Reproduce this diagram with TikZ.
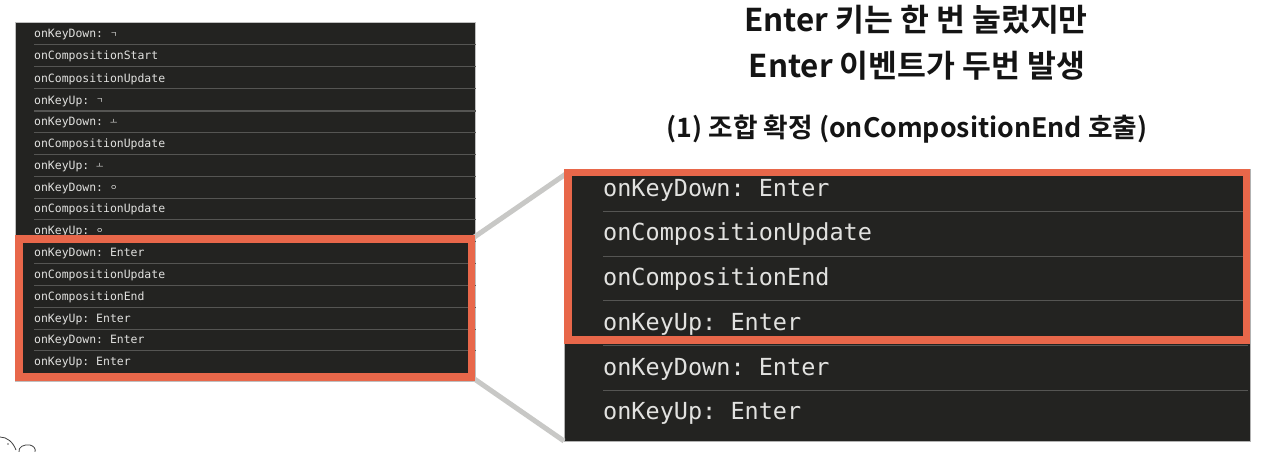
\documentclass[tikz,border=0pt]{standalone}
\usepackage{fontspec}
\setmainfont{Noto Sans CJK KR}[BoldFont={* Bold}]
\newfontfamily\codefont{DejaVu Sans Mono}
\newfontfamily\jamofont{Noto Sans CJK KR}
\frenchspacing
\definecolor{panelbg}{HTML}{232321}
\definecolor{rowline}{HTML}{555553}
\definecolor{codetxt}{HTML}{E2E2E0}
\definecolor{redbox}{HTML}{E8674A}
\definecolor{linkgray}{HTML}{C8C8C6}
\pgfdeclarelayer{panels}
\pgfdeclarelayer{links}
\pgfsetlayers{panels,links,main}
\newcommand{\jm}[1]{\raisebox{.15ex}{\jamofont\fontsize{8}{8}\selectfont #1}}
\tikzset{
  x=1pt,y=-1pt,
  panel/.style={fill=panelbg,draw=#1,line width=0.8pt,inner sep=0pt,outer sep=0pt,anchor=north west},
  callout/.style={draw=redbox,line width=7.5pt,inner sep=0pt,outer sep=0pt,anchor=north west},
  smallcode/.style={text=codetxt,inner sep=0pt,anchor=base west,font=\codefont\fontsize{11.45}{13}\selectfont},
  bigcode/.style={text=codetxt,inner sep=0pt,anchor=base west,font=\codefont\fontsize{23.5}{26}\selectfont},
  sep/.style={draw=rowline,line width=1pt},
  link/.style={draw=linkgray,line width=5pt},
  heading/.style={inner sep=0pt,anchor=center,font=\bfseries\fontsize{#1}{#1}\selectfont,text=black!92}
}
\begin{document}
\begin{tikzpicture}
\useasboundingbox (0,0) rectangle (1262,452);
\begin{pgfonlayer}{panels}
\fill[white] (0,0) rectangle (1262,452);
\node[panel=gray!60,minimum width=686pt,minimum height=272pt] (rpanel) at (564,169) {};
\node[panel=gray!50,minimum width=460pt,minimum height=359pt] (lpanel) at (15.5,22) {};
\end{pgfonlayer}
% left rows
\foreach \yy in {45,67,89,111,132,154,176,198,219,241,263,285,307,329,350}
  \draw[sep] (34,\yy) -- (lpanel.east |- 0,\yy);
\node[smallcode] (l1) at (34,38) {onKeyDown: \jm{ㄱ}};
\node[smallcode] (l2) at (34,60) {onCompositionStart};
\node[smallcode] (l3) at (34,82) {onCompositionUpdate};
\node[smallcode] (l4) at (34,104) {onKeyUp: \jm{ㄱ}};
\node[smallcode] (l5) at (34,125) {onKeyDown: \jm{ㅗ}};
\node[smallcode] (l6) at (34,147) {onCompositionUpdate};
\node[smallcode] (l7) at (34,169) {onKeyUp: \jm{ㅗ}};
\node[smallcode] (l8) at (34,191) {onKeyDown: \jm{ㅇ}};
\node[smallcode] (l9) at (34,212) {onCompositionUpdate};
\node[smallcode] (l10) at (34,234) {onKeyUp: \jm{ㅇ}};
\node[smallcode] (l11) at (34,256) {onKeyDown: Enter};
\node[smallcode] (l12) at (34,278) {onCompositionUpdate};
\node[smallcode] (l13) at (34,300) {onCompositionEnd};
\node[smallcode] (l14) at (34,322) {onKeyUp: Enter};
\node[smallcode] (l15) at (34,343) {onKeyDown: Enter};
\node[smallcode] (l16) at (34,365) {onKeyUp: Enter};
% right rows
\foreach \yy in {211,256,300,345,390}
  \draw[sep] (603,\yy) -- (1248,\yy);
\node[bigcode] (r1) at (603,196) {onKeyDown: Enter};
\node[bigcode] (r2) at (603,240) {onCompositionUpdate};
\node[bigcode] (r3) at (603,285) {onCompositionEnd};
\node[bigcode] (r4) at (603,330) {onKeyUp: Enter};
\node[bigcode] (r5) at (603,375) {onKeyDown: Enter};
\node[bigcode] (r6) at (603,419) {onKeyUp: Enter};
% callouts
\node[callout,minimum width=452.5pt,minimum height=138pt] (lbox) at (19,239) {};
\node[callout,minimum width=678.5pt,minimum height=167.5pt] (rbox) at (568,172.5) {};
% connectors
\begin{pgfonlayer}{links}
\draw[link] (lbox.north east) -- (rbox.north west);
\draw[link] (lbox.south east) -- (rpanel.south west);
\end{pgfonlayer}
% headings
\node[heading=31.4] (t1) at (916,20) {Enter 키는 한 번 눌렀지만};
\node[heading=31.4] (t2) at (917,66) {Enter 이벤트가 두번 발생};
\node[heading=26.7] (t3) at (907,129) {(1) 조합 확정 (onCompositionEnd 호출)};
% corner sketch fragment
\draw[black!75,line width=.8pt] (0,437) .. controls (7,437) and (13,442) .. (16,450);
\draw[black!75,line width=.8pt] (19,452) .. controls (18,447) and (24,444) .. (30,445) .. controls (34,446) and (36,449) .. (35,452);
\fill[black!60] (8,444) circle (.8);
\end{tikzpicture}
\end{document}
